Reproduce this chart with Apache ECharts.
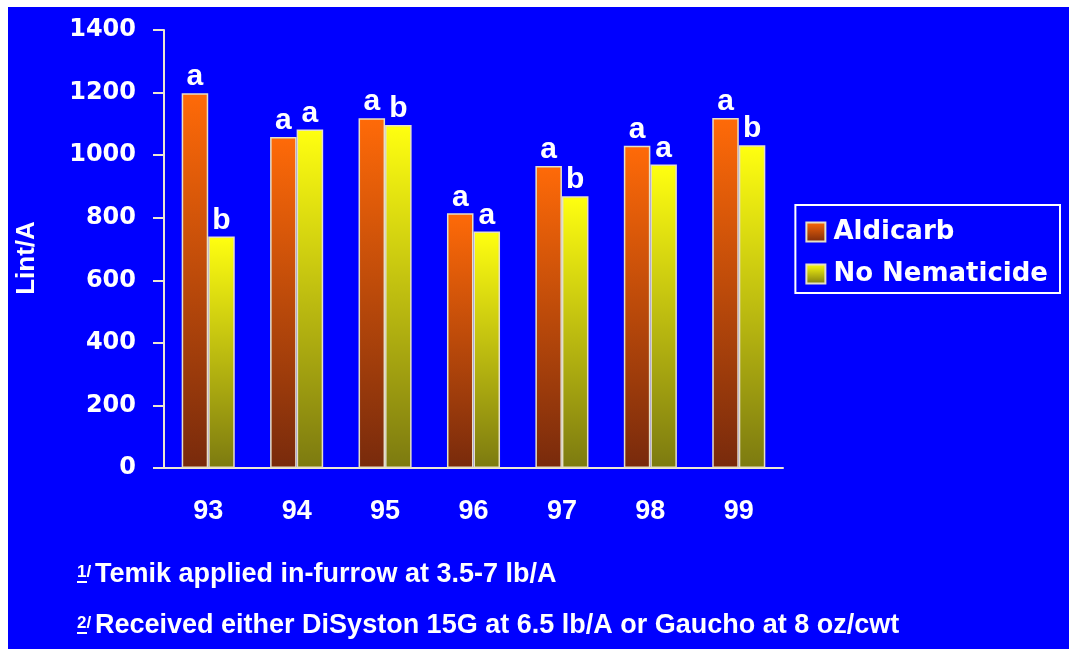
<!DOCTYPE html>
<html>
<head>
<meta charset="utf-8">
<script src="https://cdn.jsdelivr.net/npm/echarts@6/dist/echarts.min.js"></script>
<style>
  html, body { margin: 0; padding: 0; background: #ffffff; }
  #chart { position: absolute; left: 8px; top: 7px; width: 1061px; height: 642px; }
</style>
</head>
<body>
<div id="chart"></div>
<script>
// Lint yield per acre by year, with and without nematicide
const years = ['93', '94', '95', '96', '97', '98', '99'];
const aldicarb = [1198, 1058, 1118, 814, 965, 1030, 1119];
const noNematicide = [740, 1082, 1096, 756, 869, 970, 1032];
// mean-separation letters shown above each bar
const aldicarbLetters = ['a', 'a', 'a', 'a', 'a', 'a', 'a'];
const noNematicideLetters = ['b', 'a', 'b', 'a', 'b', 'a', 'b'];
const yTicks = { min: 0, max: 1400, interval: 200 };
const yTitle = 'Lint/A';
const footnotes = [
  { mark: '1/', text: 'Temik applied in-furrow at 3.5-7 lb/A' },
  { mark: '2/', text: 'Received either DiSyston 15G at 6.5 lb/A or Gaucho at 8 oz/cwt' }
];

const axisColor = '#ece6d2';
const barBorder = '#e6dfc6';
const arial = '"Liberation Sans", Arial, sans-serif';

function grad(top, bottom) {
  return new echarts.graphic.LinearGradient(0, 0, 0, 1, [
    { offset: 0, color: top },
    { offset: 1, color: bottom }
  ]);
}

function letterLabel(letters) {
  return {
    show: true,
    position: 'top',
    distance: 1,
    color: '#ffffff',
    fontFamily: arial,
    fontWeight: 'bold',
    fontSize: 30,
    formatter: p => letters[p.dataIndex]
  };
}

const chart = echarts.init(document.getElementById('chart'));

const graphics = [];
// vertical axis title
graphics.push({
  type: 'text',
  x: 19, y: 251,
  rotation: Math.PI / 2,
  style: {
    text: yTitle, fill: '#ffffff', font: 'bold 26px ' + arial,
    align: 'center', verticalAlign: 'middle'
  }
});
// footnotes with an underlined superscript marker
footnotes.forEach((f, i) => {
  const y0 = 554 + i * 51;
  graphics.push({
    type: 'text', left: 69, top: y0 + 3,
    style: { text: f.mark, fill: '#ffffff', font: 'bold 17px ' + arial }
  });
  graphics.push({
    type: 'line',
    shape: { x1: 69, y1: y0 + 21, x2: 79, y2: y0 + 21 },
    style: { stroke: '#ffffff', lineWidth: 2 }
  });
  graphics.push({
    type: 'text', left: 87, top: y0,
    style: { text: f.text, fill: '#ffffff', font: 'bold 27px ' + arial }
  });
});

chart.setOption({
  backgroundColor: '#0000ff',
  animation: false,
  grid: { left: 156, right: 286, top: 23, bottom: 181, containLabel: false, outerBoundsMode: 'none' },
  legend: {
    orient: 'vertical',
    right: 9,
    top: 198,
    padding: [14, 12, 6, 10],
    borderColor: '#ffffff',
    borderWidth: 2,
    itemWidth: 19,
    itemHeight: 19,
    itemGap: 16,
    icon: 'rect',
    textStyle: {
      color: '#ffffff',
      fontFamily: 'DejaVu Sans, sans-serif',
      fontWeight: 'bold',
      fontSize: 26,
      padding: [0, 0, 0, 3]
    },
    data: ['Aldicarb', 'No Nematicide']
  },
  xAxis: {
    type: 'category',
    data: years,
    axisLine: { lineStyle: { color: axisColor, width: 2 } },
    axisTick: { show: false },
    axisLabel: {
      color: '#ffffff',
      fontFamily: arial,
      fontWeight: 'bold',
      fontSize: 27,
      margin: 30
    }
  },
  yAxis: {
    type: 'value',
    min: yTicks.min,
    max: yTicks.max,
    interval: yTicks.interval,
    splitLine: { show: false },
    axisLine: { show: true, lineStyle: { color: axisColor, width: 2 } },
    axisTick: { show: true, length: 11, lineStyle: { color: axisColor, width: 2 } },
    axisLabel: {
      color: '#ffffff',
      fontFamily: 'DejaVu Sans, sans-serif',
      fontWeight: 'bold',
      fontSize: 24,
      margin: 28,
      formatter: v => String(v)
    }
  },
  series: [
    {
      name: 'Aldicarb',
      type: 'bar',
      data: aldicarb,
      barGap: '0%',
      barCategoryGap: '40%',
      itemStyle: { color: grad('#ff6a08', '#782a0c'), borderColor: barBorder, borderWidth: 1.5 },
      label: letterLabel(aldicarbLetters)
    },
    {
      name: 'No Nematicide',
      type: 'bar',
      data: noNematicide,
      itemStyle: { color: grad('#ffff10', '#7c7a10'), borderColor: barBorder, borderWidth: 1.5 },
      label: letterLabel(noNematicideLetters)
    }
  ],
  graphic: graphics
});
</script>
</body>
</html>
